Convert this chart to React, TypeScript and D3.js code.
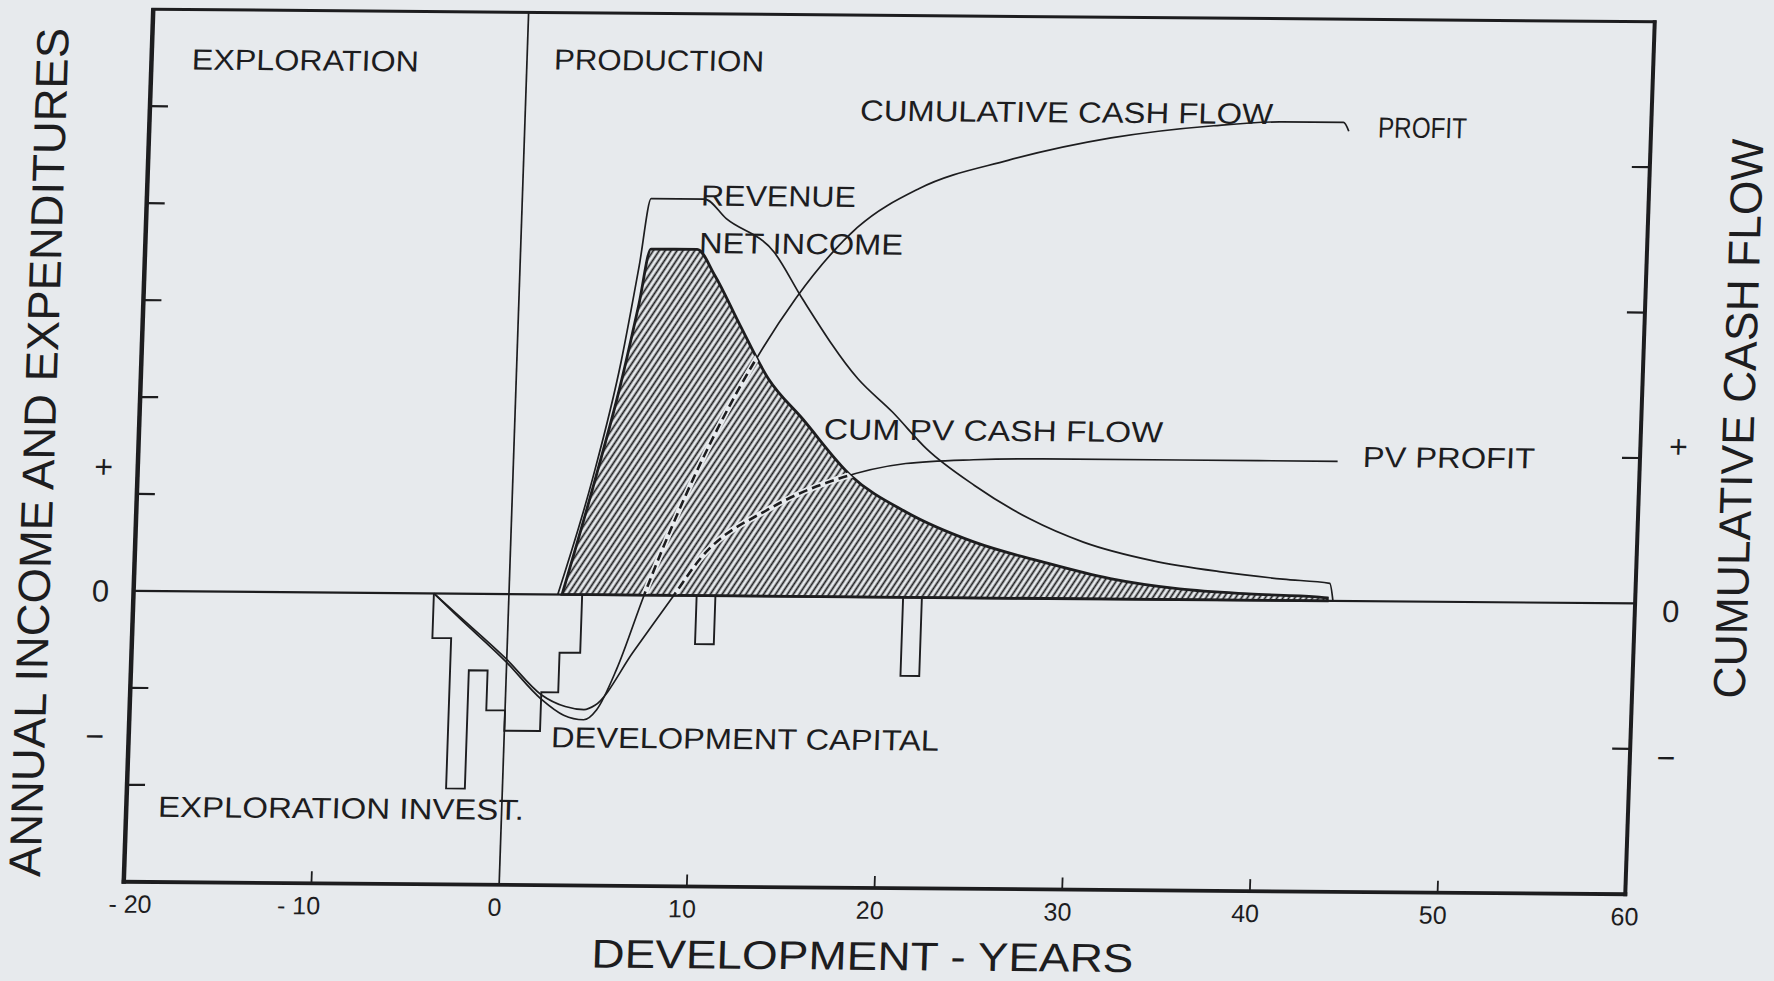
import * as d3 from "d3";

// ---- data (years on x; left axis units for annual flows, right axis units for cumulative) ----
const xTickValues = [-20, -10, 0, 10, 20, 30, 40, 50, 60];
const xTickLabels = ["- 20", "- 10", "0", "10", "20", "30", "40", "50", "60"];
const leftTicks = [-2, -1, 1, 2, 3, 4, 5];
const rightTicks = [-1, 1, 2, 3];

// [from year, to year, annual value]
const capitalBars: [number, number, number][] = [
  [-4, -3, -0.46],
  [-3, -2, -2.01],
  [-2, -1, -0.79],
  [-1, 0, -1.2],
  [0, 1.9, -1.41],
  [1.9, 2.8, -1.01],
  [2.8, 3.9, -0.6],
];
const laterBars: [number, number, number][] = [
  [10, 11, -0.5],
  [21, 22, -0.81],
];

const revenue: [number, number][] = [
  [2.6, 0], [4.25, 1.2], [5.55, 2.4], [6.35, 3.4], [6.86, 4.09], [9.7, 4.09],
  [10.9, 3.89], [13.5, 3.55], [15.1, 3.07], [18.2, 2.25], [20.1, 1.91],
  [22.0, 1.53], [24.6, 1.16], [27.6, 0.82], [30.5, 0.585], [34.2, 0.4],
  [37.9, 0.29], [41.2, 0.22], [43.7, 0.18], [43.9, 0],
];

const netIncome: [number, number][] = [
  [2.83, 0], [4.4, 1.2], [5.6, 2.2], [6.4, 3.0], [6.94, 3.57], [9.4, 3.57],
  [10.4, 3.3], [11.8, 2.8], [13.44, 2.24], [15.33, 1.83], [18.0, 1.25],
  [21.0, 0.88], [24.7, 0.575], [28.4, 0.375], [32.0, 0.21], [35.7, 0.11],
  [39.4, 0.065], [43.0, 0.04], [43.6, 0.03], [43.6, 0],
];

const cumCashFlow: [number, number][] = [
  [-4, 0], [-2.75, -0.15], [0, -0.47], [1.9, -0.72], [3.13, -0.83],
  [4.2, -0.86], [4.88, -0.79], [5.87, -0.51], [7.2, 0], [14.75, 2.05],
  [17.9, 2.54], [21.1, 2.81], [25.8, 3.01], [31.25, 3.17], [36.7, 3.26],
  [40.3, 3.29], [43.6, 3.29], [43.9, 3.23],
];

const cumPvCashFlow: [number, number][] = [
  [-4, 0], [-2.75, -0.14], [0, -0.45], [1.9, -0.69], [3.2, -0.77],
  [4.2, -0.79], [4.78, -0.76], [6.73, -0.39], [8.78, 0], [10.1, 0.25],
  [13.7, 0.6], [17.3, 0.81], [20.9, 0.92], [24.5, 0.95], [28.2, 0.96],
  [35.5, 0.96], [43.9, 0.96],
];

// annotations: [text, year (left edge), left-axis value (vertical centre), width px]
const annotations: [string, number, number, number][] = [
  ["EXPLORATION", -17.85, 5.49, 227],
  ["PRODUCTION", 1.44, 5.52, 210],
  ["CUMULATIVE CASH FLOW", 17.83, 5.02, 413],
  ["PROFIT", 45.45, 4.89, 89],
  ["REVENUE", 9.51, 4.13, 155],
  ["NET INCOME", 9.49, 3.64, 204],
  ["CUM  PV CASH FLOW", 16.48, 1.73, 339],
  ["PV PROFIT", 45.24, 1.49, 172],
  ["DEVELOPMENT CAPITAL", 2.5, -1.47, 388],
  ["EXPLORATION INVEST.", -18.31, -2.22, 366],
];

const W = 1774;
const H = 981;
const PW = 1501.5;
const PH = 872.5;
const INK = "#1d1d1f";
const PAPER = "#e7eaed";
const FONT = "'Liberation Sans', Arial, Helvetica, sans-serif";

const x = d3.scaleLinear().domain([-20, 60]).range([0, PW]);
const yL = d3.scaleLinear().domain([-3, 6]).range([PH, 0]);
const yR = d3.scaleLinear().domain([-2, 4]).range([PH, 0]);

// small nudges of the scanned tick labels relative to their ticks
const labelShift = (t: number) => (t === -20 ? 7 : t === -10 ? -12 : t === 60 ? 0 : -4);

const App = () => {
  const lineL = d3
    .line<[number, number]>()
    .x((d) => x(d[0]))
    .y((d) => yL(d[1]))
    .curve(d3.curveMonotoneX);
  const lineR = d3
    .line<[number, number]>()
    .x((d) => x(d[0]))
    .y((d) => yR(d[1]))
    .curve(d3.curveMonotoneX);
  const straight = d3
    .line<[number, number]>()
    .x((d) => x(d[0]))
    .y((d) => yL(d[1]));

  const stepPts: [number, number][] = [[capitalBars[0][0], 0]];
  capitalBars.forEach(([a, b, v]) => {
    stepPts.push([a, v], [b, v]);
  });
  stepPts.push([capitalBars[capitalBars.length - 1][1], 0]);

  const niPath = lineL(netIncome) + "Z";
  const cumPath = lineR(cumCashFlow) ?? "";
  const pvPath = lineR(cumPvCashFlow) ?? "";

  return (
    <svg
      width={W}
      height={H}
      style={{ position: "fixed", left: 0, top: 0, background: PAPER }}
    >
      <defs>
        <pattern
          id="hatch"
          width="5"
          height="10"
          patternUnits="userSpaceOnUse"
          patternTransform="rotate(32)"
        >
          <rect width="5" height="10" fill={PAPER} />
          <line x1="1.5" y1="0" x2="1.5" y2="10" stroke={INK} strokeWidth="1.8" />
        </pattern>
        <clipPath id="niClip">
          <path d={niPath} />
        </clipPath>
      </defs>
      <rect width={W} height={H} fill={PAPER} />
      <g
        transform="matrix(1,0.00833,-0.0338,1,153.25,9.25)"
        fontFamily={FONT}
        fill={INK}
      >
        {/* net income (hatched) */}
        <path d={niPath} fill="url(#hatch)" stroke={INK} strokeWidth={2.8} />

        {/* cumulative curves: dashed inside hatched area, solid outside */}
        <path d={cumPath} fill="none" stroke={INK} strokeWidth={1.7} />
        <path d={pvPath} fill="none" stroke={INK} strokeWidth={1.7} />
        <g clipPath="url(#niClip)">
          <path d={cumPath} fill="none" stroke={PAPER} strokeWidth={6} />
          <path d={pvPath} fill="none" stroke={PAPER} strokeWidth={6} />
          <path d={cumPath} fill="none" stroke={INK} strokeWidth={2.6} strokeDasharray="9 5" />
          <path d={pvPath} fill="none" stroke={INK} strokeWidth={2.6} strokeDasharray="9 5" />
        </g>

        {/* revenue */}
        <path d={lineL(revenue) ?? ""} fill="none" stroke={INK} strokeWidth={1.7} />

        {/* exploration + development capital outline */}
        <path d={straight(stepPts) ?? ""} fill="none" stroke={INK} strokeWidth={1.9} />
        {laterBars.map(([a, b, v], i) => (
          <path
            key={i}
            d={
              straight([
                [a, 0],
                [a, v],
                [b, v],
                [b, 0],
              ]) ?? ""
            }
            fill="none"
            stroke={INK}
            strokeWidth={1.9}
          />
        ))}

        {/* zero line and divider */}
        <line x1={0} x2={PW} y1={yL(0)} y2={yL(0)} stroke={INK} strokeWidth={2.2} />
        <line x1={x(0)} x2={x(0)} y1={0} y2={PH} stroke={INK} strokeWidth={1.7} />

        {/* frame */}
        <line x1={0} x2={0} y1={-1} y2={PH + 2} stroke={INK} strokeWidth={4.5} />
        <line x1={-2} x2={PW + 2} y1={PH} y2={PH} stroke={INK} strokeWidth={3.8} />
        <line x1={-2} x2={PW + 1.5} y1={0} y2={0} stroke={INK} strokeWidth={3} />
        <line x1={PW} x2={PW} y1={-1.5} y2={PH + 2} stroke={INK} strokeWidth={4} />

        {/* ticks */}
        {leftTicks.map((t) => (
          <line key={"l" + t} x1={0} x2={18} y1={yL(t)} y2={yL(t)} stroke={INK} strokeWidth={2.2} />
        ))}
        {rightTicks.map((t) => (
          <line key={"r" + t} x1={PW - 18} x2={PW} y1={yR(t)} y2={yR(t)} stroke={INK} strokeWidth={2.2} />
        ))}
        {xTickValues
          .filter((t) => t > -20 && t < 60 && t !== 0)
          .map((t) => (
            <line key={"x" + t} x1={x(t)} x2={x(t)} y1={PH} y2={PH - 12} stroke={INK} strokeWidth={1.8} />
          ))}

        {/* tick labels */}
        {xTickValues.map((t, i) => (
          <text
            key={"xl" + t}
            x={x(t) + labelShift(t)}
            y={PH + 31}
            fontSize={25}
            textAnchor="middle"
          >
            {xTickLabels[i]}
          </text>
        ))}
        <text x={-34} y={yL(1.28) + 11} fontSize={32} textAnchor="middle">+</text>
        <text x={-33} y={yL(0) + 11} fontSize={31} textAnchor="middle">0</text>
        <text x={-34} y={yL(-1.5) + 11} fontSize={32} textAnchor="middle">−</text>
        <text x={PW + 38} y={yR(1.08) + 11} fontSize={32} textAnchor="middle">+</text>
        <text x={PW + 36} y={yR(-0.05) + 11} fontSize={31} textAnchor="middle">0</text>
        <text x={PW + 36} y={yR(-1.06) + 11} fontSize={32} textAnchor="middle">−</text>

        {/* axis titles */}
        <text
          transform={`translate(${-100},${444}) rotate(-90)`}
          dy="0.36em"
          fontSize={45}
          textAnchor="middle"
          textLength={849}
          lengthAdjust="spacingAndGlyphs"
        >
          ANNUAL INCOME AND EXPENDITURES
        </text>
        <text
          transform={`translate(${1598},${396}) rotate(-90)`}
          dy="0.36em"
          fontSize={45}
          textAnchor="middle"
          textLength={560}
          lengthAdjust="spacingAndGlyphs"
        >
          CUMULATIVE CASH FLOW
        </text>
        <text
          x={741}
          y={940}
          dy="0.36em"
          fontSize={40}
          textAnchor="middle"
          textLength={542}
          lengthAdjust="spacingAndGlyphs"
        >
          DEVELOPMENT - YEARS
        </text>

        {/* annotations */}
        {annotations.map(([label, yr, v, w]) => (
          <text
            key={label}
            x={x(yr)}
            y={yL(v)}
            dy="0.36em"
            fontSize={29}
            textLength={w}
            lengthAdjust="spacingAndGlyphs"
          >
            {label}
          </text>
        ))}
      </g>
    </svg>
  );
};

export default App;
